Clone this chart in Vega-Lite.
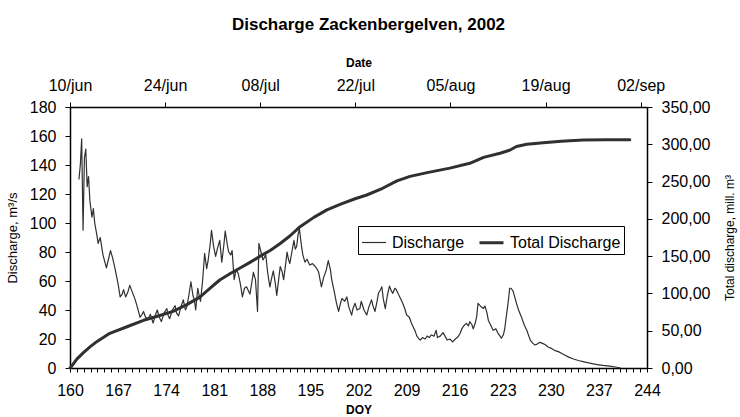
{
  "$schema": "https://vega.github.io/schema/vega-lite/v6.json",
  "width": 577,
  "height": 261,
  "autosize": {"type": "none"},
  "padding": {"left": 70, "top": 107, "right": 93, "bottom": 49},
  "background": "white",
  "title": {
    "text": "Discharge Zackenbergelven, 2002",
    "font": "Liberation Sans",
    "fontSize": 17,
    "fontWeight": "bold",
    "color": "black",
    "anchor": "middle",
    "baseline": "alphabetic",
    "offset": 9,
    "dx": 10
  },
  "config": {
    "view": {"stroke": null},
    "font": "Liberation Sans",
    "axis": {
      "grid": false,
      "domainColor": "black",
      "domainWidth": 1.5,
      "tickColor": "black",
      "tickWidth": 1,
      "labelColor": "black",
      "titleColor": "black",
      "labelFont": "Liberation Sans",
      "labelFontSize": 16,
      "titleFont": "Liberation Sans",
      "labelOverlap": false,
      "labelFlush": false
    }
  },
  "datasets": {
    "q": [
      {"doy": 161.3, "q": 130}, {"doy": 161.5, "q": 140}, {"doy": 161.7, "q": 158}, {"doy": 161.9, "q": 95},
      {"doy": 162.1, "q": 145}, {"doy": 162.3, "q": 151}, {"doy": 162.5, "q": 125}, {"doy": 162.7, "q": 132},
      {"doy": 162.9, "q": 115}, {"doy": 163.2, "q": 104}, {"doy": 163.4, "q": 110}, {"doy": 163.6, "q": 100},
      {"doy": 163.9, "q": 92}, {"doy": 164.1, "q": 86}, {"doy": 164.4, "q": 90}, {"doy": 164.8, "q": 78},
      {"doy": 165.3, "q": 69}, {"doy": 165.6, "q": 75}, {"doy": 165.9, "q": 81}, {"doy": 166.2, "q": 76},
      {"doy": 166.6, "q": 67.5}, {"doy": 167.0, "q": 58}, {"doy": 167.3, "q": 49}, {"doy": 167.6, "q": 51},
      {"doy": 167.8, "q": 54}, {"doy": 168.1, "q": 49}, {"doy": 168.4, "q": 52}, {"doy": 168.7, "q": 57},
      {"doy": 169.1, "q": 52}, {"doy": 169.5, "q": 47}, {"doy": 169.8, "q": 42}, {"doy": 170.2, "q": 35},
      {"doy": 170.5, "q": 37}, {"doy": 170.7, "q": 39}, {"doy": 171.0, "q": 35}, {"doy": 171.4, "q": 34},
      {"doy": 171.7, "q": 37}, {"doy": 172.1, "q": 31}, {"doy": 172.4, "q": 36}, {"doy": 172.7, "q": 40},
      {"doy": 173.0, "q": 35}, {"doy": 173.3, "q": 32}, {"doy": 173.7, "q": 38}, {"doy": 174.1, "q": 41},
      {"doy": 174.3, "q": 36}, {"doy": 174.5, "q": 34}, {"doy": 174.9, "q": 40}, {"doy": 175.3, "q": 43},
      {"doy": 175.5, "q": 38}, {"doy": 175.8, "q": 36}, {"doy": 176.2, "q": 43}, {"doy": 176.5, "q": 47},
      {"doy": 176.8, "q": 40}, {"doy": 177.0, "q": 42}, {"doy": 177.3, "q": 50}, {"doy": 177.6, "q": 59.5},
      {"doy": 177.9, "q": 50}, {"doy": 178.1, "q": 47}, {"doy": 178.3, "q": 40}, {"doy": 178.6, "q": 55},
      {"doy": 178.8, "q": 50}, {"doy": 179.0, "q": 46}, {"doy": 179.3, "q": 60}, {"doy": 179.6, "q": 79},
      {"doy": 179.9, "q": 68.5}, {"doy": 180.1, "q": 74}, {"doy": 180.4, "q": 85}, {"doy": 180.6, "q": 95},
      {"doy": 180.9, "q": 84}, {"doy": 181.2, "q": 77}, {"doy": 181.5, "q": 83}, {"doy": 181.8, "q": 88},
      {"doy": 182.1, "q": 73}, {"doy": 182.4, "q": 85}, {"doy": 182.6, "q": 94.5}, {"doy": 182.9, "q": 85},
      {"doy": 183.1, "q": 80}, {"doy": 183.4, "q": 78}, {"doy": 183.6, "q": 81}, {"doy": 183.9, "q": 61},
      {"doy": 184.2, "q": 68}, {"doy": 184.5, "q": 65}, {"doy": 184.8, "q": 58}, {"doy": 185.1, "q": 49},
      {"doy": 185.4, "q": 55}, {"doy": 185.7, "q": 56}, {"doy": 186.0, "q": 53}, {"doy": 186.2, "q": 51},
      {"doy": 186.5, "q": 60}, {"doy": 186.7, "q": 66}, {"doy": 187.0, "q": 61}, {"doy": 187.3, "q": 39},
      {"doy": 187.5, "q": 86}, {"doy": 187.8, "q": 80}, {"doy": 188.1, "q": 74.5}, {"doy": 188.5, "q": 78},
      {"doy": 188.8, "q": 65}, {"doy": 189.1, "q": 56}, {"doy": 189.4, "q": 63}, {"doy": 189.6, "q": 67},
      {"doy": 189.9, "q": 58}, {"doy": 190.1, "q": 50}, {"doy": 190.4, "q": 62}, {"doy": 190.6, "q": 70},
      {"doy": 190.9, "q": 66}, {"doy": 191.1, "q": 61}, {"doy": 191.4, "q": 72}, {"doy": 191.6, "q": 80},
      {"doy": 191.8, "q": 75}, {"doy": 192.0, "q": 72}, {"doy": 192.3, "q": 80}, {"doy": 192.6, "q": 88},
      {"doy": 192.8, "q": 82}, {"doy": 193.0, "q": 84}, {"doy": 193.2, "q": 92}, {"doy": 193.4, "q": 96},
      {"doy": 193.7, "q": 84}, {"doy": 193.9, "q": 78}, {"doy": 194.2, "q": 73}, {"doy": 194.5, "q": 75},
      {"doy": 194.9, "q": 71}, {"doy": 195.3, "q": 72}, {"doy": 195.7, "q": 70}, {"doy": 196.0, "q": 68},
      {"doy": 196.2, "q": 66}, {"doy": 196.4, "q": 61}, {"doy": 196.6, "q": 56}, {"doy": 196.9, "q": 62},
      {"doy": 197.3, "q": 67.5}, {"doy": 197.6, "q": 74}, {"doy": 197.9, "q": 68}, {"doy": 198.1, "q": 61},
      {"doy": 198.5, "q": 52}, {"doy": 198.8, "q": 44.6}, {"doy": 199.1, "q": 39}, {"doy": 199.4, "q": 45},
      {"doy": 199.6, "q": 48}, {"doy": 200.0, "q": 46}, {"doy": 200.3, "q": 49}, {"doy": 200.6, "q": 42},
      {"doy": 201.0, "q": 36.5}, {"doy": 201.2, "q": 41}, {"doy": 201.5, "q": 44.6}, {"doy": 201.8, "q": 40},
      {"doy": 202.2, "q": 41}, {"doy": 202.4, "q": 46}, {"doy": 202.8, "q": 40}, {"doy": 203.2, "q": 36.5},
      {"doy": 203.5, "q": 42}, {"doy": 203.9, "q": 47}, {"doy": 204.1, "q": 43}, {"doy": 204.4, "q": 39},
      {"doy": 204.7, "q": 46}, {"doy": 204.9, "q": 51.5}, {"doy": 205.2, "q": 54}, {"doy": 205.4, "q": 56},
      {"doy": 205.6, "q": 48}, {"doy": 205.9, "q": 41}, {"doy": 206.2, "q": 50}, {"doy": 206.5, "q": 56.5},
      {"doy": 206.8, "q": 53}, {"doy": 207.0, "q": 51.5}, {"doy": 207.3, "q": 55}, {"doy": 207.5, "q": 54},
      {"doy": 207.9, "q": 50}, {"doy": 208.2, "q": 47}, {"doy": 208.5, "q": 44}, {"doy": 208.8, "q": 40},
      {"doy": 209.0, "q": 36.5}, {"doy": 209.4, "q": 35}, {"doy": 209.7, "q": 31}, {"doy": 210.0, "q": 28},
      {"doy": 210.2, "q": 26}, {"doy": 210.5, "q": 22}, {"doy": 210.8, "q": 20}, {"doy": 211.0, "q": 19.3},
      {"doy": 211.3, "q": 21}, {"doy": 211.7, "q": 20}, {"doy": 212.0, "q": 22}, {"doy": 212.3, "q": 21},
      {"doy": 212.6, "q": 22.8}, {"doy": 213.0, "q": 22}, {"doy": 213.3, "q": 26}, {"doy": 213.5, "q": 21},
      {"doy": 213.9, "q": 22}, {"doy": 214.3, "q": 24.4}, {"doy": 214.6, "q": 22}, {"doy": 214.9, "q": 19.3},
      {"doy": 215.3, "q": 20}, {"doy": 215.7, "q": 18}, {"doy": 216.1, "q": 20}, {"doy": 216.5, "q": 21.6},
      {"doy": 216.8, "q": 24}, {"doy": 217.0, "q": 26.6}, {"doy": 217.3, "q": 29}, {"doy": 217.7, "q": 30.8},
      {"doy": 218.0, "q": 29}, {"doy": 218.2, "q": 32}, {"doy": 218.5, "q": 30}, {"doy": 218.7, "q": 27},
      {"doy": 219.0, "q": 31}, {"doy": 219.2, "q": 35.4}, {"doy": 219.4, "q": 44.6}, {"doy": 219.7, "q": 43},
      {"doy": 219.9, "q": 42}, {"doy": 220.2, "q": 41}, {"doy": 220.4, "q": 42.8}, {"doy": 220.7, "q": 38},
      {"doy": 220.9, "q": 33}, {"doy": 221.2, "q": 30}, {"doy": 221.6, "q": 26}, {"doy": 222.0, "q": 27},
      {"doy": 222.3, "q": 24}, {"doy": 222.6, "q": 22}, {"doy": 222.8, "q": 20.5}, {"doy": 223.1, "q": 23},
      {"doy": 223.3, "q": 27.4}, {"doy": 223.5, "q": 35}, {"doy": 223.7, "q": 42}, {"doy": 223.9, "q": 50},
      {"doy": 224.0, "q": 55}, {"doy": 224.2, "q": 55}, {"doy": 224.5, "q": 53}, {"doy": 224.8, "q": 48},
      {"doy": 225.0, "q": 44.6}, {"doy": 225.3, "q": 40}, {"doy": 225.7, "q": 35.4}, {"doy": 226.1, "q": 30},
      {"doy": 226.5, "q": 26}, {"doy": 226.8, "q": 22}, {"doy": 227.0, "q": 19.3}, {"doy": 227.4, "q": 17},
      {"doy": 227.7, "q": 15.9}, {"doy": 228.0, "q": 16.5}, {"doy": 228.4, "q": 17.7}, {"doy": 228.8, "q": 17},
      {"doy": 229.2, "q": 16}, {"doy": 229.6, "q": 14.5}, {"doy": 230.1, "q": 13.5}, {"doy": 230.6, "q": 12},
      {"doy": 231.1, "q": 11.3}, {"doy": 231.6, "q": 10}, {"doy": 232.0, "q": 9}, {"doy": 232.6, "q": 7.5},
      {"doy": 233.3, "q": 6.2}, {"doy": 234.0, "q": 5.2}, {"doy": 234.7, "q": 4.4}, {"doy": 235.5, "q": 3.5},
      {"doy": 236.2, "q": 2.8}, {"doy": 237.0, "q": 2.2}, {"doy": 237.6, "q": 1.8}, {"doy": 238.6, "q": 1.3},
      {"doy": 239.6, "q": 0.5}, {"doy": 240.2, "q": 0}
    ],
    "tot": [
      {"doy": 160.0, "total": 0}, {"doy": 160.2, "total": 2}, {"doy": 161.0, "total": 12}, {"doy": 162.02, "total": 21},
      {"doy": 163.03, "total": 29}, {"doy": 164.04, "total": 36}, {"doy": 165.86, "total": 46.5}, {"doy": 168.29, "total": 55},
      {"doy": 170.82, "total": 64}, {"doy": 172.74, "total": 69}, {"doy": 175.17, "total": 76}, {"doy": 177.19, "total": 85},
      {"doy": 179.11, "total": 95}, {"doy": 180.63, "total": 107}, {"doy": 182.04, "total": 118}, {"doy": 183.66, "total": 127},
      {"doy": 184.97, "total": 133.7}, {"doy": 186.49, "total": 141.7}, {"doy": 188.01, "total": 150}, {"doy": 189.52, "total": 158},
      {"doy": 190.94, "total": 167}, {"doy": 192.36, "total": 177}, {"doy": 193.87, "total": 189.5}, {"doy": 195.89, "total": 202},
      {"doy": 197.82, "total": 212}, {"doy": 199.94, "total": 220}, {"doy": 201.96, "total": 227}, {"doy": 203.68, "total": 232},
      {"doy": 206.01, "total": 241}, {"doy": 208.13, "total": 251}, {"doy": 210.05, "total": 257}, {"doy": 212.58, "total": 262},
      {"doy": 215.91, "total": 268}, {"doy": 218.85, "total": 274.5}, {"doy": 220.87, "total": 282.5}, {"doy": 223.3, "total": 288},
      {"doy": 224.71, "total": 292}, {"doy": 225.72, "total": 297}, {"doy": 227.24, "total": 300}, {"doy": 229.66, "total": 302},
      {"doy": 232.29, "total": 304}, {"doy": 235.53, "total": 305.7}, {"doy": 238.86, "total": 306}, {"doy": 242.4, "total": 306}
    ]
  },
  "layer": [
    {
      "data": {"name": "tot"},
      "mark": {"type": "line", "strokeCap": "round", "strokeJoin": "round"},
      "encoding": {
        "x": {
          "field": "doy",
          "type": "quantitative",
          "scale": {"domain": [160, 244.93], "nice": false, "zero": false},
          "axis": {
            "orient": "top",
            "title": "Date",
            "titleFontSize": 12,
            "titleFontWeight": "bold",
            "titlePadding": 8,
            "values": [160, 174, 188, 202, 216, 230, 244],
            "labelExpr": "lower(timeFormat(datetime(2002, 5, datum.value - 150), '%d/%b'))",
            "tickSize": 5,
            "labelPadding": 9
          }
        },
        "y": {
          "field": "total",
          "type": "quantitative",
          "scale": {"domain": [0, 350], "nice": false},
          "axis": {
            "orient": "right",
            "title": "Total discharge, mill. m³",
            "titleFontSize": 12,
            "titleFontWeight": "normal",
            "titleAngle": 270,
            "titleBaseline": "top",
            "titlePadding": 15,
            "values": [0, 50, 100, 150, 200, 250, 300, 350],
            "labelExpr": "replace(format(datum.value, '.2f'), '.', ',')",
            "tickSize": 5,
            "labelPadding": 9
          }
        },
        "color": {
          "datum": "Total Discharge",
          "type": "nominal",
          "scale": {"domain": ["Discharge", "Total Discharge"], "range": ["#303030", "#303030"]},
          "legend": {
            "orient": "none",
            "legendX": 288,
            "legendY": 119,
            "direction": "horizontal",
            "title": null,
            "strokeColor": "black",
            "fillColor": "white",
            "padding": 3,
            "symbolType": "stroke",
            "symbolSize": 576,
            "labelFont": "Liberation Sans",
            "labelFontSize": 16,
            "labelColor": "black",
            "labelOffset": 5,
            "columnPadding": 8
          }
        },
        "strokeWidth": {
          "datum": "Total Discharge",
          "type": "ordinal",
          "scale": {"domain": ["Discharge", "Total Discharge"], "range": [1.2, 3]},
          "legend": {
            "orient": "none",
            "legendX": 288,
            "legendY": 119,
            "direction": "horizontal",
            "title": null,
            "strokeColor": "black",
            "fillColor": "white",
            "padding": 3,
            "symbolType": "stroke",
            "symbolSize": 576,
            "labelFont": "Liberation Sans",
            "labelFontSize": 16,
            "labelColor": "black",
            "labelOffset": 5,
            "columnPadding": 8
          }
        }
      }
    },
    {
      "data": {"name": "q"},
      "mark": {"type": "line", "strokeJoin": "round"},
      "encoding": {
        "x": {
          "field": "doy",
          "type": "quantitative",
          "scale": {"domain": [160, 244], "nice": false, "zero": false},
          "axis": {
            "orient": "bottom",
            "title": "DOY",
            "titleFontSize": 12,
            "titleFontWeight": "bold",
            "titlePadding": 6,
            "values": [160,161,162,163,164,165,166,167,168,169,170,171,172,173,174,175,176,177,178,179,180,181,182,183,184,185,186,187,188,189,190,191,192,193,194,195,196,197,198,199,200,201,202,203,204,205,206,207,208,209,210,211,212,213,214,215,216,217,218,219,220,221,222,223,224,225,226,227,228,229,230,231,232,233,234,235,236,237,238,239,240,241,242,243,244],
            "labelExpr": "(datum.value - 160) % 7 == 0 ? datum.label : ''",
            "tickSize": 4,
            "labelPadding": 10
          }
        },
        "y": {
          "field": "q",
          "type": "quantitative",
          "scale": {"domain": [0, 180], "nice": false},
          "axis": {
            "orient": "left",
            "title": "Discharge, m³/s",
            "titleFontSize": 13,
            "titleFontWeight": "normal",
            "titlePadding": 10,
            "values": [0, 20, 40, 60, 80, 100, 120, 140, 160, 180],
            "tickSize": 5,
            "labelPadding": 9
          }
        },
        "color": {"datum": "Discharge", "type": "nominal"},
        "strokeWidth": {"datum": "Discharge", "type": "ordinal"}
      }
    }
  ],
  "resolve": {"scale": {"x": "independent", "y": "independent"}}
}
